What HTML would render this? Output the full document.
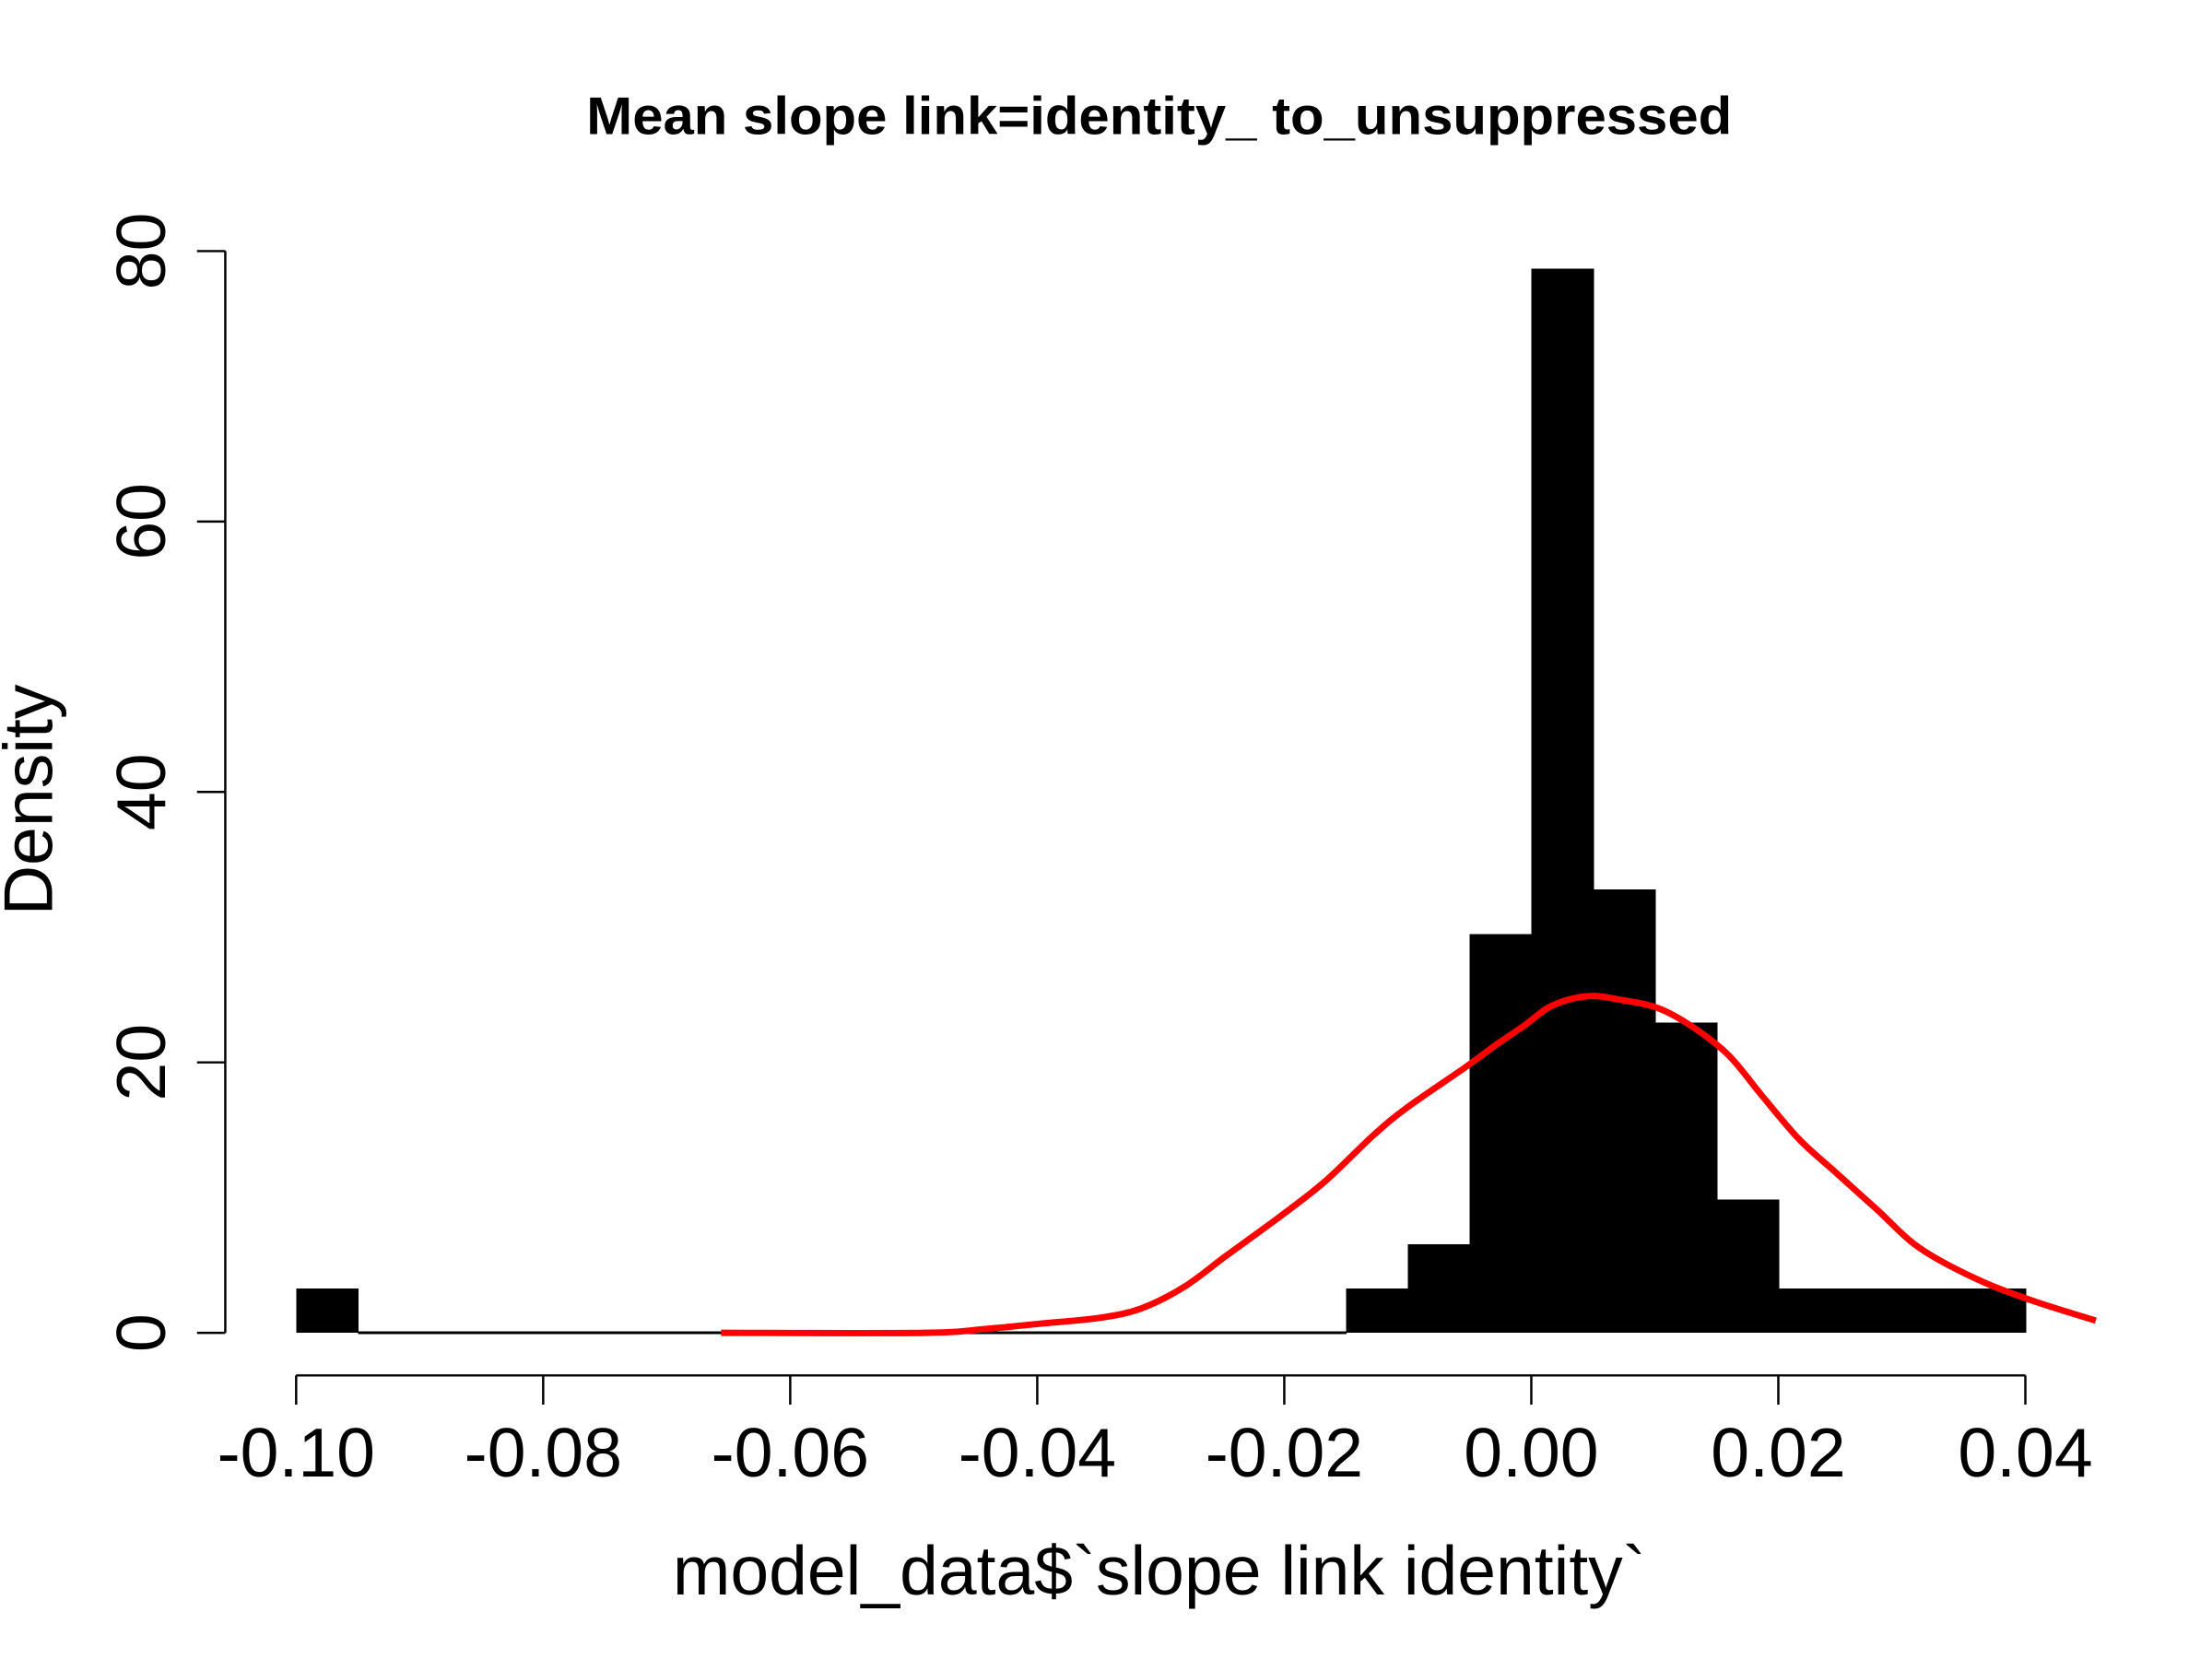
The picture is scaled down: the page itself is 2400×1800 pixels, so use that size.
<!DOCTYPE html>
<html><head><meta charset="utf-8"><style>html,body{margin:0;padding:0;background:#fff}svg{display:block}</style></head>
<body>
<svg id="chart" xmlns="http://www.w3.org/2000/svg" width="2400" height="1800" viewBox="0 0 2400 1800" font-family="Liberation Sans, Arial, sans-serif">
<rect width="2400" height="1800" fill="#fff"/>
<g transform="scale(0.9896)">
<text x="1271" y="147" text-anchor="middle" font-size="58" font-weight="bold" textLength="1256" lengthAdjust="spacingAndGlyphs">Mean slope link=identity_ to_unsuppressed</text>
<text x="1271" y="1748" text-anchor="middle" font-size="76" textLength="1067" lengthAdjust="spacingAndGlyphs">model_data$`slope link identity`</text>
<text transform="translate(57,877) rotate(-90)" text-anchor="middle" font-size="76">Density</text>
<g id="bars" shape-rendering="crispEdges"></g>
<g id="curve"></g>
<g id="axes"></g>
</g>
</svg>
<script>
const binStarts = [-0.1,-0.095,-0.09,-0.085,-0.08,-0.075,-0.07,-0.065,-0.06,-0.055,-0.05,-0.045,-0.04,-0.035,-0.03,-0.025,-0.02,-0.015,-0.01,-0.005,0,0.005,0.01,0.015,0.02,0.025,0.03,0.035];
const binDensity = [3.28,0,0,0,0,0,0,0,0,0,0,0,0,0,0,0,0,3.28,6.56,29.5,78.7,32.8,22.95,9.84,3.28,3.28,3.28,3.28];
const binWidth = 0.005;
const curveX = [-0.0656,-0.0492,-0.044,-0.0395,-0.035,-0.0316,-0.0281,-0.0247,-0.0202,-0.0167,-0.0128,-0.01,-0.0054,-0.003,-0.0006,0.0017,0.0046,0.0074,0.0103,0.0131,0.016,0.0188,0.0217,0.0246,0.028,0.0314,0.036,0.0405,0.0457];
const curveY = [0,0,0.3,0.7,1.1,1.8,3.4,5.7,8.7,11.2,14.6,16.7,19.6,21.2,22.7,24.2,24.9,24.6,24.0,22.6,20.5,17.4,14.3,11.9,9.1,6.3,4.0,2.4,0.9];
const xTicks = [-0.1,-0.08,-0.06,-0.04,-0.02,0,0.02,0.04];
const xTickLabels = ["-0.10","-0.08","-0.06","-0.04","-0.02","0.00","0.02","0.04"];
const yTicks = [0,20,40,60,80];
const yTickLabels = ["0","20","40","60","80"];

const NS = "http://www.w3.org/2000/svg";
const X = v => 324.7 + (v + 0.1) / 0.14 * (2220.6 - 324.7);
const Y = v => 1461.3 - v / 80 * (1461.3 - 275.3);
function mk(tag, attrs, parent) { const e = document.createElementNS(NS, tag); for (const k in attrs) e.setAttribute(k, attrs[k]); parent.appendChild(e); return e; }

const bars = document.getElementById('bars');
binStarts.forEach((s, i) => {
  const x0 = X(s), x1 = X(s + binWidth), y = Y(binDensity[i]);
  const r = mk('rect', {x: x0, y: Math.min(y, 1459.8), width: x1 - x0 + 0.8, height: Math.max(1461.3 - y, 3), fill: '#000'}, bars);
  
  
});

// smooth path via Catmull-Rom through data points
const pts = curveX.map((x, i) => [X(x), Y(curveY[i])]);
let d = 'M' + pts[0][0] + ',' + pts[0][1];
for (let i = 0; i < pts.length - 1; i++) {
  const p0 = pts[Math.max(i - 1, 0)], p1 = pts[i], p2 = pts[i + 1], p3 = pts[Math.min(i + 2, pts.length - 1)];
  const c1 = [p1[0] + (p2[0] - p0[0]) / 6, p1[1] + (p2[1] - p0[1]) / 6];
  const c2 = [p2[0] - (p3[0] - p1[0]) / 6, p2[1] - (p3[1] - p1[1]) / 6];
  d += ' C' + c1.join(',') + ' ' + c2.join(',') + ' ' + p2.join(',');
}
const cg = document.getElementById('curve');
const p = mk('path', {d: d, fill: 'none', stroke: '#ff0000', 'stroke-width': 7, 'stroke-linejoin': 'round'}, cg);



const ax = document.getElementById('axes');
const xl = mk('line', {x1: X(xTicks[0]), x2: X(xTicks[xTicks.length-1]), y1: 1508, y2: 1508, stroke: '#000', 'stroke-width': 2.5}, ax);


xTicks.forEach((t, i) => {
  const tk = mk('line', {x1: X(t), x2: X(t), y1: 1508, y2: 1540, stroke: '#000', 'stroke-width': 2.5}, ax);
  
  
  const tx = mk('text', {x: X(t), y: 1619, 'text-anchor': 'middle', 'font-size': 76}, ax);
  tx.textContent = xTickLabels[i];
  
  
});
const yl = mk('line', {x1: 247, x2: 247, y1: Y(yTicks[0]), y2: Y(yTicks[yTicks.length-1]), stroke: '#000', 'stroke-width': 2.5}, ax);


yTicks.forEach((t, i) => {
  const tk = mk('line', {x1: 216, x2: 247, y1: Y(t), y2: Y(t), stroke: '#000', 'stroke-width': 2.5}, ax);
  
  
  const tx = mk('text', {transform: 'translate(181,' + Y(t) + ') rotate(-90)', 'text-anchor': 'middle', 'font-size': 76}, ax);
  tx.textContent = yTickLabels[i];
  
  
});
</script>
</body></html>
